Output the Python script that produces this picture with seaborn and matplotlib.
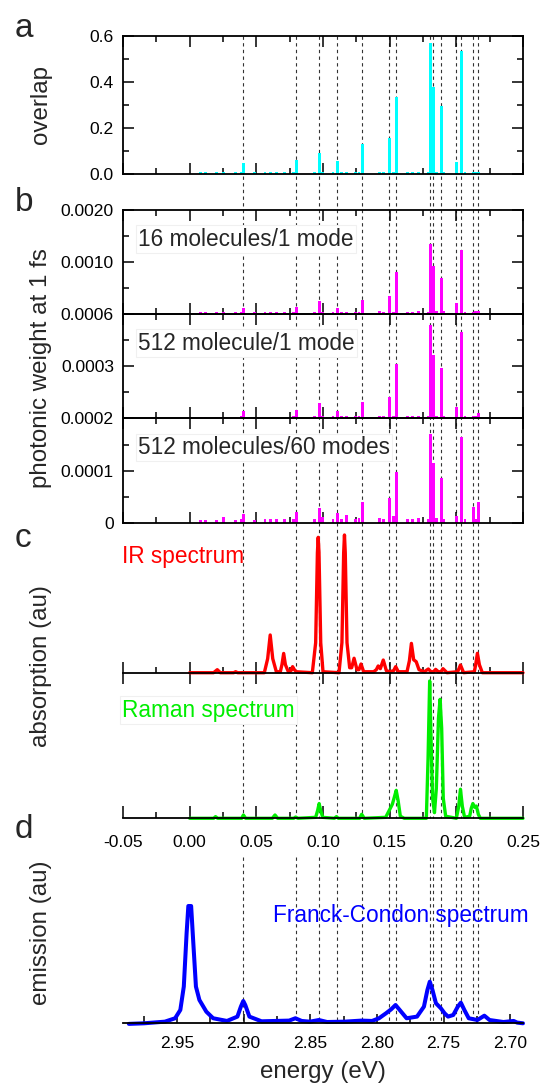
import matplotlib
matplotlib.use('Agg')
import matplotlib.pyplot as plt
import matplotlib.ticker as mticker
from matplotlib.lines import Line2D
from matplotlib.transforms import blended_transform_factory
import seaborn as sns

# vibrational mode energies (eV) and the values
modes = [0.0078, 0.0122, 0.0200, 0.0254, 0.0345, 0.0389, 0.0407, 0.0484, 0.0565, 0.0609,
         0.0648, 0.0712, 0.0777, 0.0798, 0.0938, 0.0974, 0.0997, 0.1075, 0.1106, 0.1140,
         0.1179, 0.1244, 0.1270, 0.1293, 0.1425, 0.1456, 0.1497, 0.1528, 0.1549, 0.1632,
         0.1671, 0.1718, 0.1788, 0.1806, 0.1829, 0.1852, 0.1889, 0.1904, 0.2000, 0.2039,
         0.2065, 0.2127, 0.2145, 0.2163]
overlap = [0.008, 0.008, 0.009, 0.008, 0.008, 0.009, 0.046, 0.008, 0.008, 0.009,
           0.009, 0.008, 0.009, 0.061, 0.009, 0.090, 0.009, 0.009, 0.058, 0.008,
           0.009, 0.008, 0.009, 0.129, 0.008, 0.009, 0.158, 0.008, 0.336, 0.008,
           0.008, 0.009, 0.009, 0.571, 0.377, 0.009, 0.297, 0.009, 0.054, 0.536,
           0.009, 0.010, 0.009, 0.010]
weight_16 = [3e-5, 3e-5, 3e-5, 4e-5, 4e-5, 4e-5, 1.2e-4, 4e-5, 4e-5, 4e-5,
             4e-5, 4e-5, 4e-5, 1.35e-4, 4e-5, 2.5e-4, 4e-5, 4e-5, 1.1e-4, 4e-5,
             4e-5, 4e-5, 4e-5, 2.6e-4, 6e-5, 4e-5, 3.5e-4, 4e-5, 8.1e-4, 4e-5,
             4e-5, 5e-5, 4e-5, 1.34e-3, 9.3e-4, 6e-5, 7.0e-4, 5e-5, 2.1e-4, 1.23e-3,
             4e-5, 4e-5, 5e-5, 6e-5]
weight_512 = [9e-6, 9e-6, 9e-6, 1e-5, 1e-5, 1.1e-5, 4.2e-5, 1e-5, 1e-5, 1e-5,
              1e-5, 1e-5, 1.1e-5, 4.8e-5, 1.1e-5, 8.6e-5, 1.1e-5, 1.1e-5, 4.2e-5, 1.1e-5,
              1.3e-5, 1.1e-5, 1.1e-5, 9.2e-5, 1.3e-5, 1.1e-5, 1.24e-4, 1.1e-5, 3.12e-4, 1.1e-5,
              1.1e-5, 1.3e-5, 1.1e-5, 5.37e-4, 3.64e-4, 1.3e-5, 2.88e-4, 1.1e-5, 6.7e-5, 4.98e-4,
              1.1e-5, 1.3e-5, 1.4e-5, 2.9e-5]
weight_512_60 = [6e-6, 6e-6, 6e-6, 1.2e-5, 6e-6, 8e-6, 1.77e-5, 6e-6, 8e-6, 8e-6,
                 8e-6, 8e-6, 8e-6, 2.2e-5, 8e-6, 2.86e-5, 1.2e-5, 8e-6, 1.9e-5, 8e-6,
                 1.6e-5, 8e-6, 1e-5, 4.11e-5, 1e-5, 8e-6, 4.76e-5, 1.4e-5, 9.83e-5, 8e-6,
                 8e-6, 1e-5, 8e-6, 1.70e-4, 1.14e-4, 1e-5, 8.57e-5, 8e-6, 1.4e-5, 1.64e-4,
                 8e-6, 3.16e-5, 8e-6, 4.11e-5]
marked_modes = [0.0402, 0.0795, 0.0973, 0.1106, 0.1290, 0.1495, 0.1548,
                0.1803, 0.1827, 0.1884, 0.1996, 0.2034, 0.2126, 0.2161]

# IR and Raman spectra (eV, normalised absorption)
ir_x = [0.000, 0.018, 0.0207, 0.023, 0.033, 0.0345, 0.036, 0.056, 0.0585, 0.0604,
        0.0623, 0.065, 0.068, 0.0692, 0.0705, 0.0718, 0.074, 0.076, 0.0772, 0.0785,
        0.080, 0.092, 0.0945, 0.0958, 0.0964, 0.0970, 0.0983, 0.100, 0.112, 0.1142,
        0.1155, 0.1161, 0.1167, 0.1180, 0.1200, 0.1215, 0.1233, 0.1255, 0.1270, 0.1285,
        0.1305, 0.138, 0.1400, 0.1414, 0.1430, 0.1452, 0.1475, 0.150, 0.1530, 0.1545,
        0.1565, 0.163, 0.1648, 0.1663, 0.1680, 0.1699, 0.1720, 0.176, 0.1790, 0.1810,
        0.1830, 0.1845, 0.1865, 0.1885, 0.1900, 0.1930, 0.2010, 0.2031, 0.2055, 0.2135,
        0.2145, 0.2158, 0.2173, 0.2195, 0.250]
ir_y = [0, 0, 0.022, 0, 0, 0.007, 0, 0, 0.102, 0.274,
        0.102, 0.007, 0.007, 0.058, 0.140, 0.058, 0.007, 0.015, 0.044, 0.022,
        0.007, 0, 0.218, 0.871, 0.983, 0.871, 0.218, 0.007, 0, 0.218,
        0.871, 1.0, 0.871, 0.218, 0.036, 0.036, 0.105, 0.022, 0.022, 0.063,
        0.007, 0.007, 0.022, 0.049, 0.029, 0.092, 0.015, 0.007, 0.015, 0.044,
        0.007, 0.007, 0.087, 0.213, 0.094, 0.080, 0.022, 0.007, 0.027, 0.007,
        0.007, 0.024, 0.007, 0.007, 0.029, 0, 0.007, 0.056, 0, 0.007,
        0.058, 0.141, 0.058, 0, 0]
raman_x = [0.000, 0.018, 0.0194, 0.021, 0.039, 0.0403, 0.0420, 0.062, 0.064, 0.066,
           0.078, 0.0795, 0.0812, 0.0945, 0.0960, 0.0971, 0.0982, 0.0998, 0.1085, 0.1101,
           0.1115, 0.1275, 0.1290, 0.131, 0.147, 0.1505, 0.1520, 0.1537, 0.1549, 0.1563,
           0.1580, 0.161, 0.1775, 0.1788, 0.1800, 0.1812, 0.1822, 0.1836, 0.1850, 0.1866,
           0.1878, 0.1890, 0.1902, 0.1920, 0.200, 0.2018, 0.2031, 0.2045, 0.2062, 0.2100,
           0.2112, 0.2124, 0.2137, 0.2150, 0.2165, 0.2180, 0.250]
raman_y = [0, 0, 0.012, 0, 0, 0.024, 0, 0, 0.024, 0,
           0, 0.009, 0, 0.007, 0.058, 0.107, 0.058, 0.007, 0, 0.012,
           0, 0, 0.029, 0, 0.007, 0.073, 0.102, 0.160, 0.203, 0.131,
           0.015, 0, 0, 0.436, 0.997, 0.508, 0.145, 0.041, 0.218, 0.726,
           0.864, 0.654, 0.145, 0.015, 0, 0.087, 0.211, 0.087, 0.007, 0.015,
           0.073, 0.107, 0.080, 0.089, 0.029, 0, 0]

# Franck-Condon emission spectrum (eV, normalised)
fc_energy = [2.9861, 2.9747, 2.9591, 2.9514, 2.9475, 2.9449, 2.9428, 2.9415, 2.9394, 2.9379,
             2.9358, 2.9332, 2.9280, 2.9229, 2.9125, 2.9047, 2.9021, 2.9003, 2.8988, 2.8957,
             2.8866, 2.8659, 2.8612, 2.8565, 2.8503, 2.8436, 2.8374, 2.8244, 2.8117, 2.8037,
             2.7985, 2.7933, 2.7894, 2.7861, 2.7830, 2.7778, 2.7700, 2.7648, 2.7622, 2.7604,
             2.7584, 2.7558, 2.7521, 2.7493, 2.7467, 2.7428, 2.7394, 2.7371, 2.7345, 2.7312,
             2.7247, 2.7195, 2.7156, 2.7052, 2.6975, 2.6949, 2.6905]
fc_emission = [-0.005, 0.0, 0.014, 0.043, 0.114, 0.313, 0.767, 1.0, 1.0, 0.710,
               0.313, 0.199, 0.099, 0.043, 0.020, 0.057, 0.142, 0.190, 0.156, 0.057,
               0.017, 0.023, 0.043, 0.020, 0.014, 0.028, 0.011, 0.014, 0.023, 0.020,
               0.043, 0.085, 0.119, 0.156, 0.114, 0.043, 0.057, 0.142, 0.284, 0.355,
               0.284, 0.171, 0.128, 0.085, 0.057, 0.071, 0.142, 0.176, 0.114, 0.043,
               0.028, 0.065, 0.028, 0.011, 0.020, 0.006, 0.0]

sns.set_theme(style='ticks')
plt.rcParams['font.family'] = ['Liberation Sans', 'DejaVu Sans']
plt.rcParams['axes.unicode_minus'] = False
plt.rcParams['axes.edgecolor'] = 'black'

W, H = 540, 1088
fig = plt.figure(figsize=(W / 100, H / 100), dpi=100)
fig.patch.set_facecolor('white')


def box(x0, y0, x1, y1):
    # pixel box (from top-left) -> figure fraction rect
    return [x0 / W, 1 - y1 / H, (x1 - x0) / W, (y1 - y0) / H]


def frame(ax):
    ax.set_facecolor('none')
    for s in ax.spines.values():
        s.set_linewidth(1.3)
        s.set_color('black')
    ax.tick_params(which='both', direction='in', top=True, right=True, width=1.1,
                   color='black', labelcolor='black', labelsize=12.6, pad=6.5,
                   labelbottom=False)
    ax.tick_params(which='major', length=8)
    ax.tick_params(which='minor', length=4.3)
    ax.set_xlim(-0.05, 0.25)
    ax.xaxis.set_major_locator(mticker.MultipleLocator(0.05))
    ax.xaxis.set_minor_locator(mticker.MultipleLocator(0.025))


def open_axis(ax):
    ax.set_facecolor('none')
    for side in ['left', 'right', 'top']:
        ax.spines[side].set_visible(False)
    ax.spines['bottom'].set_linewidth(1.3)
    ax.spines['bottom'].set_color('black')
    ax.set_yticks([])
    ax.set_ylabel('')
    ax.set_xlabel('')


X0, X1 = 123, 523

# a: overlap
ax_a = fig.add_axes(box(X0, 36, X1, 174))
frame(ax_a)
ax_a.bar(modes, overlap, width=0.0022, color='#00ffff', linewidth=0)
ax_a.set_ylim(0, 0.6)
ax_a.yaxis.set_major_locator(mticker.MultipleLocator(0.2))
ax_a.yaxis.set_minor_locator(mticker.MultipleLocator(0.1))
ax_a.yaxis.set_major_formatter(mticker.FormatStrFormatter('%.1f'))

# b: photonic weights, three stacked panels
b_rows = [(210, 314, weight_16, 0.0020, ['', '0.0010', '0.0020'], '16 molecules/1 mode'),
          (314, 418.3, weight_512, 0.0006, ['', '0.0003', '0.0006'], '512 molecule/1 mode'),
          (418.3, 523.3, weight_512_60, 0.0002, ['0', '0.0001', '0.0002'], '512 molecules/60 modes')]
for top, bottom, vals, ymax, labels, title in b_rows:
    ax = fig.add_axes(box(X0, top, X1, bottom))
    frame(ax)
    ax.bar(modes, vals, width=0.0022, color='#ff00ff', linewidth=0)
    ax.set_ylim(0, ymax)
    ax.set_yticks([0, ymax / 2, ymax])
    ax.set_yticklabels(labels)
    ax.yaxis.set_minor_locator(mticker.MultipleLocator(ymax / 4))
    fig.text(138 / W, 1 - (top + 35.5) / H, title, fontsize=16.3, va='baseline',
             zorder=5, bbox=dict(facecolor='white', edgecolor='#f0f0f0', lw=0.8, pad=1.5))

# c: IR and Raman spectra
ax_ir = fig.add_axes(box(X0, 535, X1, 672.7))
sns.lineplot(x=ir_x, y=ir_y, ax=ax_ir, color='#ff0000', lw=2.4, sort=False,
             estimator=None, clip_on=False)
open_axis(ax_ir)
ax_ir.set_xlim(-0.05, 0.25)
ax_ir.set_ylim(0, 1)
ax_ir.xaxis.set_major_locator(mticker.MultipleLocator(0.05))
ax_ir.xaxis.set_minor_locator(mticker.MultipleLocator(0.025))
ax_ir.tick_params(which='both', labelbottom=False, color='black', width=1.1)
ax_ir.tick_params(which='major', direction='inout', length=16.5)
ax_ir.tick_params(which='minor', direction='in', length=4.3)

ax_ra = fig.add_axes(box(X0, 680.6, X1, 818.3))
sns.lineplot(x=raman_x, y=raman_y, ax=ax_ra, color='#00ee00', lw=2.4, sort=False,
             estimator=None, clip_on=False)
open_axis(ax_ra)
ax_ra.set_xlim(-0.05, 0.25)
ax_ra.set_ylim(0, 1)
ax_ra.xaxis.set_major_locator(mticker.MultipleLocator(0.05))
ax_ra.xaxis.set_minor_locator(mticker.MultipleLocator(0.025))
ax_ra.xaxis.set_major_formatter(mticker.FormatStrFormatter('%.2f'))
ax_ra.tick_params(which='both', direction='in', color='black', width=1.1,
                  labelsize=12.6, labelcolor='black', pad=12)
ax_ra.tick_params(which='major', length=8.6)
ax_ra.tick_params(which='minor', length=4.3)

fig.text(122 / W, 1 - 563.3 / H, 'IR spectrum', color='#ff0000', fontsize=16.3,
         va='baseline', zorder=5)
fig.text(122.5 / W, 1 - 716.5 / H, 'Raman spectrum', color='#00ee00', fontsize=16.3,
         va='baseline', zorder=5,
         bbox=dict(facecolor='white', edgecolor='#f0f0f0', lw=0.8, pad=1.5))

# d: Franck-Condon emission
ax_d = fig.add_axes(box(X0, 857, X1, 1023.3))
sns.lineplot(x=fc_energy, y=fc_emission, ax=ax_d, color='#0000ff', lw=2.9, sort=False,
             estimator=None, clip_on=False)
open_axis(ax_d)
ax_d.set_xlim(2.9905, 2.6905)
ax_d.set_ylim(0, 1.418)
ax_d.xaxis.set_major_locator(mticker.MultipleLocator(0.05))
ax_d.xaxis.set_minor_locator(mticker.MultipleLocator(0.025))
ax_d.xaxis.set_major_formatter(mticker.FormatStrFormatter('%.2f'))
ax_d.tick_params(which='both', direction='in', color='black', width=1.1,
                 labelsize=12.6, labelcolor='black', pad=9.5)
ax_d.tick_params(which='major', length=6.5)
ax_d.tick_params(which='minor', length=5)
fig.text(272.6 / W, 1 - 921.7 / H, 'Franck-Condon spectrum', color='#0000ff',
         fontsize=16.3, va='baseline', zorder=5)

# dashed guide lines at the strong modes, running through all panels
trans = blended_transform_factory(ax_a.transData, fig.transFigure)
for m in marked_modes:
    for y_top, y_bot in [(36, 818), (857, 1023)]:
        fig.add_artist(Line2D([m, m], [1 - y_top / H, 1 - y_bot / H], transform=trans,
                              color='#333333', lw=0.8, ls=(0, (3, 3)), zorder=-1))

# axis titles and panel letters
for text, yc in [('overlap', 105), ('photonic weight at 1 fs', 368.5),
                 ('absorption (au)', 666.5), ('emission (au)', 933)]:
    fig.text(41 / W, 1 - yc / H, text, rotation=90, fontsize=17.4, ha='center', va='center')
fig.text(323 / W, 1 - 1072 / H, 'energy (eV)', fontsize=17.4, ha='center', va='center')
for letter, yb in [('a', 36.7), ('b', 211), ('c', 546.7), ('d', 838)]:
    fig.text(15 / W, 1 - yb / H, letter, fontsize=24, va='baseline')

fig.savefig('out.png', dpi=100)
